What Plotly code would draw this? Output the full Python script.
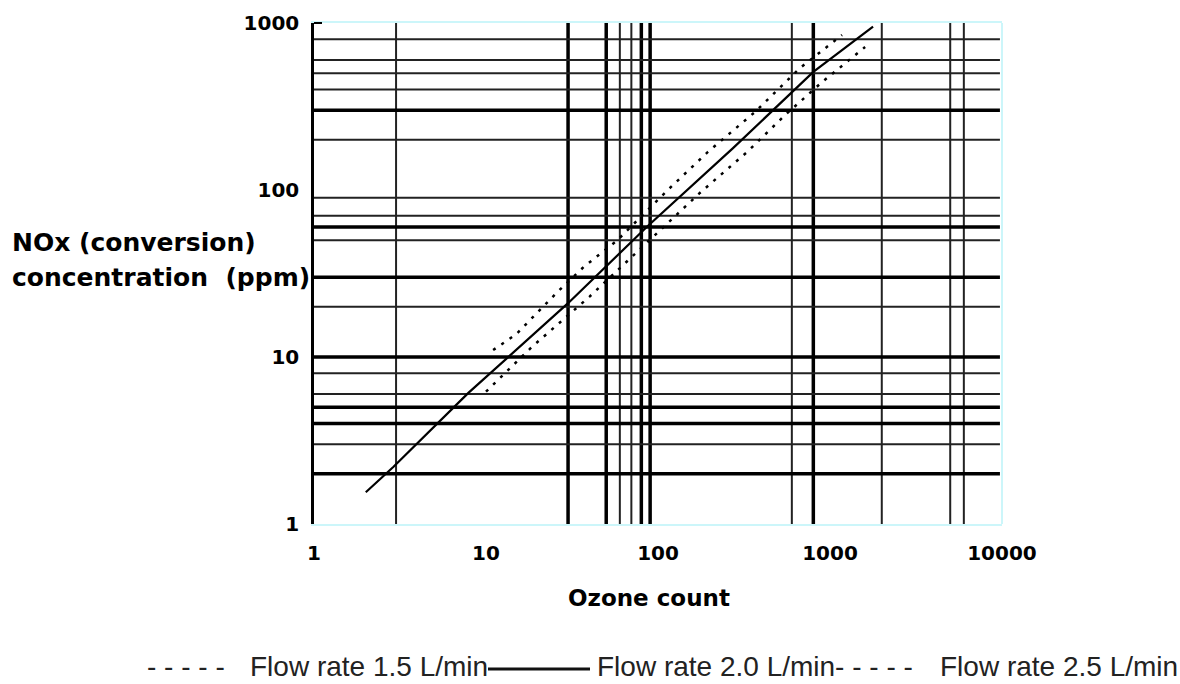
import plotly.graph_objects as go

# ---- data ----
ozone_15 = [11, 15, 26, 37, 58, 114, 195, 366, 670, 1175]
nox_15 = [11, 13.7, 24.5, 34.6, 50, 100, 169, 293, 538, 848]
ozone_20 = [2, 2.9, 7.9, 30, 86, 273, 800, 1780]
nox_20 = [1.55, 2.2, 6.1, 21, 60, 178, 510, 950]
ozone_25 = [10, 18.5, 40, 175, 330, 548, 900, 1600]
nox_25 = [6.2, 11.5, 23, 96, 169, 281, 443, 718]

x_tick_vals = [1, 10, 100, 1000, 10000]
x_tick_text = ["1", "10", "100", "1000", "10000"]
y_tick_vals = [1, 10, 100, 1000]
y_tick_text = ["1", "10", "100", "1000"]

x_grid_thick = [30, 50, 80, 90, 800]
x_grid_thin = [3, 60, 70, 600, 2000, 5000, 6000]
y_grid_thick = [2, 4, 5, 10, 30, 60, 300]
y_grid_thin = [3, 6, 8, 20, 50, 70, 90, 200, 400, 500, 600, 800]

series_names = ["Flow rate 1.5 L/min", "Flow rate 2.0 L/min", "Flow rate 2.5 L/min"]

# ---- figure ----
W, H = 1180, 684
L, R, T, B = 314, 178, 23, 160
PW, PH = W - L - R, H - T - B


def px(xp):
    return (xp - L) / PW


def py(yp):
    return (H - B - yp) / PH


fig = go.Figure()
fig.add_trace(go.Scatter(x=ozone_15, y=nox_15, mode="lines", name=series_names[0],
                         line=dict(color="black", width=2.5, dash="3px,7px")))
fig.add_trace(go.Scatter(x=ozone_20, y=nox_20, mode="lines", name=series_names[1],
                         line=dict(color="black", width=2.2)))
fig.add_trace(go.Scatter(x=ozone_25, y=nox_25, mode="lines", name=series_names[2],
                         line=dict(color="black", width=2.5, dash="3px,7px")))

shapes = []
for v in x_grid_thick:
    shapes.append(dict(type="line", xref="x", yref="paper", x0=v, x1=v, y0=0, y1=1,
                       line=dict(color="black", width=3.5), layer="below"))
for v in x_grid_thin:
    shapes.append(dict(type="line", xref="x", yref="paper", x0=v, x1=v, y0=0, y1=1,
                       line=dict(color="#222222", width=2), layer="below"))
for v in y_grid_thick:
    shapes.append(dict(type="line", xref="paper", yref="y", x0=0, x1=0.997, y0=v, y1=v,
                       line=dict(color="black", width=3.5), layer="below"))
for v in y_grid_thin:
    shapes.append(dict(type="line", xref="paper", yref="y", x0=0, x1=0.997, y0=v, y1=v,
                       line=dict(color="#222222", width=2), layer="below"))
# right frame edge (light cyan)
shapes.append(dict(type="line", xref="paper", yref="paper", x0=1, x1=1, y0=0, y1=1,
                   line=dict(color="#ccf6fa", width=2)))
# small black corner tick at the top-left
shapes.append(dict(type="line", xref="paper", yref="paper", x0=0, x1=px(322),
                   y0=1, y1=1, line=dict(color="black", width=2)))
# legend solid line sample
shapes.append(dict(type="line", xref="paper", yref="paper", x0=px(488), x1=px(590),
                   y0=py(669), y1=py(669), line=dict(color="#111111", width=3)))

bold = dict(family="DejaVu Sans", size=20, color="black", weight="bold")
ytitle_font = dict(family="DejaVu Sans", size=25, color="black", weight="bold")
xtitle_font = dict(family="DejaVu Sans", size=23, color="black", weight="bold")
leg_font = dict(family="Liberation Sans, Arial, sans-serif", size=28, color="#222222")

annotations = [
    dict(text="NOx (conversion)", x=px(10), y=py(243), xref="paper", yref="paper",
         xanchor="left", yanchor="middle", showarrow=False, font=ytitle_font),
    dict(text="concentration  (ppm)", x=px(10), y=py(277), xref="paper", yref="paper",
         xanchor="left", yanchor="middle", showarrow=False, font=ytitle_font),
    dict(text="Ozone count", x=px(649), y=py(598), xref="paper", yref="paper",
         xanchor="center", yanchor="middle", showarrow=False, font=xtitle_font),
    dict(text="- - - - -", x=px(145), y=py(666), xref="paper", yref="paper",
         xanchor="left", yanchor="middle", showarrow=False, font=leg_font),
    dict(text=series_names[0], x=px(248), y=py(666), xref="paper", yref="paper",
         xanchor="left", yanchor="middle", showarrow=False, font=leg_font),
    dict(text=series_names[1] + "- - - - -", x=px(595), y=py(666), xref="paper", yref="paper",
         xanchor="left", yanchor="middle", showarrow=False, font=leg_font),
    dict(text=series_names[2], x=px(938), y=py(666), xref="paper", yref="paper",
         xanchor="left", yanchor="middle", showarrow=False, font=leg_font),
]

fig.update_layout(
    width=W, height=H,
    margin=dict(l=L, r=R, t=T, b=B, pad=0, autoexpand=False),
    paper_bgcolor="white", plot_bgcolor="white",
    showlegend=False,
    shapes=shapes,
    annotations=annotations,
    xaxis=dict(type="log", range=[0, 4], tickmode="array", tickvals=x_tick_vals,
               ticktext=x_tick_text, showgrid=False, zeroline=False, automargin=False,
               showline=True, linecolor="#ccf6fa", linewidth=2, mirror=True,
               ticks="", tickfont=bold, ticklabelstandoff=10),
    yaxis=dict(type="log", range=[0, 3], tickmode="array", tickvals=y_tick_vals,
               ticktext=y_tick_text, showgrid=False, zeroline=False, automargin=False,
               showline=True, linecolor="black", linewidth=2.5, mirror=False,
               ticks="", tickfont=bold, ticklabelstandoff=8),
)

fig.write_html(
    "out.html",
    config={"displayModeBar": False},
    post_script="document.body.style.margin='0';document.body.style.overflow='hidden';",
)
